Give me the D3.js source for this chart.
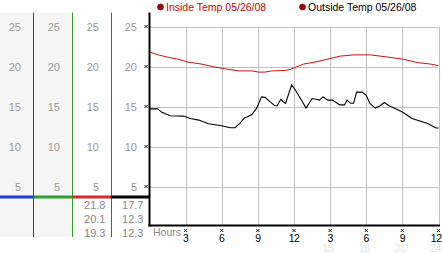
<!DOCTYPE html>
<html><head><meta charset="utf-8">
<script src="https://cdn.jsdelivr.net/npm/d3@7"></script>
<style>
html,body{margin:0;padding:0;background:#fff;}
svg{display:block;}
text{font-family:"Liberation Sans",Arial,sans-serif;}
</style></head><body>
<script>
// ---- data ----
const insideHours = [0,0.73,1.56,2.4,3.2,4.35,5.2,6.3,7.4,8.5,9.05,9.6,10.15,11.3,11.7,12.8,13.9,15.0,15.85,16.95,18.35,19.7,21.1,22.2,23.35,24];
const insideTemp  = [21.8,21.45,21.15,20.9,20.55,20.3,20.0,19.7,19.45,19.45,19.3,19.3,19.45,19.5,19.65,20.3,20.6,21.0,21.3,21.45,21.45,21.2,20.9,20.5,20.3,20.1];
const outsideHours = [0,0.68,1.0,1.7,2.8,3.4,4.1,4.9,6.0,6.7,7.1,7.5,7.9,8.1,8.5,8.9,9.3,9.6,10.0,10.4,10.6,10.9,11.1,11.3,11.8,12.1,12.4,12.7,13.0,13.5,13.85,14.1,14.4,14.8,15.2,15.4,15.8,16.2,16.4,16.7,16.95,17.2,17.65,18.0,18.3,18.75,19.15,19.5,19.9,20.3,21.0,21.8,22.65,23.05,23.75,24];
const outsideTemp  = [14.7,14.7,14.3,13.85,13.8,13.5,13.3,12.85,12.6,12.35,12.35,12.9,13.6,13.7,14.0,14.8,16.2,16.15,15.6,15.1,15.1,15.9,15.6,15.4,17.7,17.1,16.35,15.6,14.8,16.0,15.9,15.8,16.2,15.8,15.8,15.6,15.2,15.2,15.8,15.4,15.4,16.8,16.8,16.4,15.4,14.8,15.1,15.5,15.1,14.8,14.3,13.5,13.1,12.9,12.35,12.3];
const yTicks = [5,10,15,20,25];
const xTicks = [3,6,9,12,15,18,21,24];
const xTickLabels = ["3","6","9","12","3","6","9","12"];
const xFaintLabels = ["","","","","15","18","21","24"];
const insideStats = ["21.8","20.1","19.3"];
const outsideStats = ["17.7","12.3","12.3"];
const legendLabels = ["Inside Temp 05/26/08","Outside Temp 05/26/08"];
const legendColors = ["#cc0000","#000000"];
const columnColors = ["#1e3fcc","#2ea02e","#d02a2a","#000000"];

// ---- layout ----
const W=442,H=253;
const svg=d3.select("body").append("svg").attr("width",W).attr("height",H);
svg.append("rect").attr("width",W).attr("height",H).attr("fill","#fff");
const x=d3.scaleLinear().domain([0,24]).range([149.5,438.5]);
const y=d3.scaleLinear().domain([0,25]).range([226.5,26.5]);
const colEdges=[0,33.5,72.5,111.5,149.5];
const topY=12.5, botY=237, bandY=197, axisY=225.5;

// gray background for first two columns
svg.append("rect").attr("x",0).attr("y",topY).attr("width",72).attr("height",botY-topY).attr("fill","#f5f5f5");

// left column tick labels
for(let c=0;c<4;c++){
  svg.append("g").selectAll("text").data(yTicks).join("text")
    .attr("x",colEdges[c+1]-12.5).attr("y",d=>y(d)+4)
    .attr("text-anchor","end").attr("font-size",11).attr("fill","#999")
    .text(d=>d);
}
// vertical colored lines
for(let c=0;c<3;c++){
  svg.append("line").attr("x1",colEdges[c+1]).attr("x2",colEdges[c+1])
    .attr("y1",topY).attr("y2",botY).attr("stroke",columnColors[c]).attr("stroke-width",1);
}
// thick band
for(let c=0;c<4;c++){
  svg.append("line").attr("x1",colEdges[c]).attr("x2",colEdges[c+1])
    .attr("y1",bandY).attr("y2",bandY).attr("stroke",columnColors[c]).attr("stroke-width",3);
}
// stats
[insideStats,outsideStats].forEach((arr,i)=>{
  svg.append("g").selectAll("text").data(arr).join("text")
    .attr("x",colEdges[i+3]-6).attr("y",(d,j)=>209+j*14)
    .attr("text-anchor","end").attr("font-size",11).attr("fill","#888").text(d=>d);
});

// grid
const grid=svg.append("g").attr("stroke","#c0c0c0").attr("stroke-width",1);
grid.selectAll("line.h").data(yTicks).join("line").attr("class","h")
  .attr("x1",x(0)).attr("x2",x(24)).attr("y1",d=>Math.round(y(d))+0.5).attr("y2",d=>Math.round(y(d))+0.5);
grid.selectAll("line.v").data(xTicks).join("line").attr("class","v")
  .attr("x1",d=>Math.round(x(d))+0.5).attr("x2",d=>Math.round(x(d))+0.5).attr("y1",y(25)).attr("y2",axisY);

// lines
const lineGen=(hs)=>d3.line().x((d,i)=>x(hs[i])).y(d=>y(d));
svg.append("path").datum(insideTemp).attr("d",lineGen(insideHours)).attr("fill","none").attr("stroke","#cc1111").attr("stroke-width",1);
svg.append("path").datum(outsideTemp).attr("d",lineGen(outsideHours)).attr("fill","none").attr("stroke","#000").attr("stroke-width",1.1);

// axes
svg.append("line").attr("x1",149.5).attr("x2",149.5).attr("y1",topY).attr("y2",axisY+1).attr("stroke","#000").attr("stroke-width",2);
svg.append("line").attr("x1",148.5).attr("x2",440).attr("y1",axisY).attr("y2",axisY).attr("stroke","#000").attr("stroke-width",2);

// tick markers
const mark=(g,cx,cy)=>{
  g.append("path").attr("d",`M${cx-1.5},${cy-1.5}L${cx+1.5},${cy+1.5}M${cx+1.5},${cy-1.5}L${cx-1.5},${cy+1.5}`)
   .attr("stroke","#222").attr("stroke-width",1);
};
const mg=svg.append("g");
yTicks.forEach(d=>mark(mg,146,y(d)));
xTicks.forEach(d=>mark(mg,x(d),230.5));

// x labels
svg.append("text").attr("x",153).attr("y",235.5).attr("font-size",10.5).attr("fill","#888").text("Hours");
const n=xTicks.length;
svg.append("g").selectAll("text").data(xTicks).join("text")
  .attr("x",(d,i)=>i===n-1?441.5:x(d)).attr("y",242)
  .attr("text-anchor",(d,i)=>i===n-1?"end":"middle")
  .attr("font-size",10.5).attr("letter-spacing",-0.5).attr("fill","#000")
  .text((d,i)=>xTickLabels[i]);
svg.append("g").selectAll("text").data(xTicks).join("text")
  .attr("x",(d,i)=>i===n-1?441:x(d)-2).attr("y",252)
  .attr("text-anchor",(d,i)=>i===n-1?"end":"middle")
  .attr("font-size",10).attr("fill","#e4e4e4")
  .text((d,i)=>xFaintLabels[i]);

// legend
const legX=[160.5,302.5];
legendLabels.forEach((t,i)=>{
  svg.append("circle").attr("cx",legX[i]).attr("cy",7).attr("r",3).attr("fill","#b00000").attr("stroke","#400").attr("stroke-width",0.6);
  svg.append("text").attr("x",legX[i]+5.5).attr("y",10.5).attr("font-size",10.5).attr("fill",legendColors[i]).text(t);
});
</script>
</body></html>
